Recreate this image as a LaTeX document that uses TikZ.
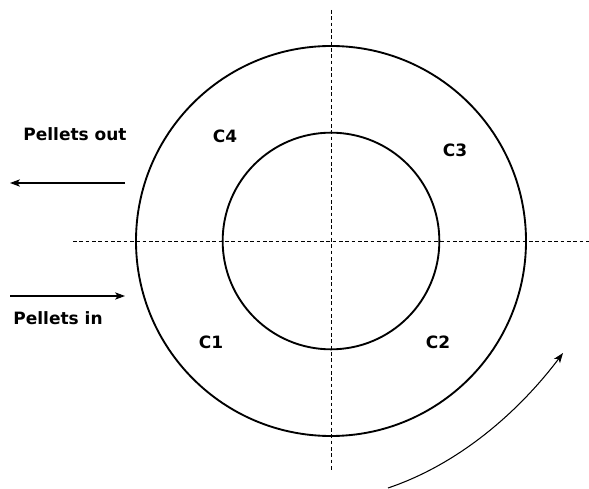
\documentclass[tikz,border=0pt]{standalone}
\usepackage{fontspec}
\setmainfont{DejaVu Sans}
\usetikzlibrary{arrows.meta}
\tikzset{
  lbl/.style={font=\bfseries\fontsize{14.5}{17}\selectfont},
  ring/.style={circle,draw,line width=1.6pt,inner sep=0pt},
  axis/.style={line width=0.8pt,dash pattern=on 0.11cm off 0.08cm},
  flow/.style={line width=0.9pt,-{Stealth[length=0.3cm,width=0.22cm,inset=0.08cm]}}
}
\begin{document}
\begin{tikzpicture}[x=0.03cm,y=-0.03cm]
\useasboundingbox (0,0) rectangle (589,489);
\coordinate (ctr) at (331,241);
\node[ring,minimum size=11.7cm] (outer) at (ctr) {};
\node[ring,minimum size=6.5cm] (inner) at (ctr) {};
\coordinate (vtop) at (331,10);
\coordinate (vbot) at (331,472);
\coordinate (hleft) at (73,241);
\coordinate (hright) at (589,241);
\draw[axis] (vtop)--(vbot);
\draw[axis] (hleft)--(hright);
\node[lbl] (c4) at (225,136) {C4};
\node[lbl] (c3) at (455,150) {C3};
\node[lbl] (c1) at (211,342) {C1};
\node[lbl] (c2) at (438,342) {C2};
\node[lbl] (pout) at (75,134) {Pellets out};
\node[lbl] (pin) at (58,318) {Pellets in};
\coordinate (outa) at (125,183);
\coordinate (outb) at (10,183);
\coordinate (ina) at (10,296);
\coordinate (inb) at (125,296);
\draw[flow] (outa)--(outb);
\draw[flow] (ina)--(inb);
\coordinate (rota) at (388,488);
\coordinate (rotb) at (563,353);
\draw[flow] (rota) .. controls (468,461) and (527,401) .. (rotb);
\end{tikzpicture}
\end{document}
